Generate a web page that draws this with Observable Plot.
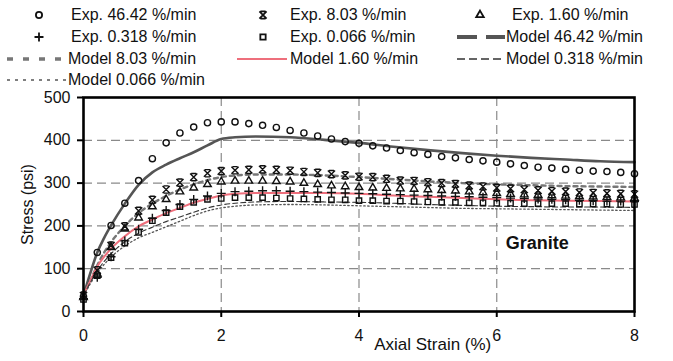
<!DOCTYPE html>
<html><head><meta charset="utf-8">
<script src="https://cdn.jsdelivr.net/npm/d3@7"></script>
<script src="https://cdn.jsdelivr.net/npm/@observablehq/plot@0.6"></script>
<style>
html,body{margin:0;padding:0;background:#fff;}
#wrap{position:relative;width:673px;height:361px;overflow:hidden;font-family:"Liberation Sans",Arial,Helvetica,sans-serif;}
#chart{position:absolute;left:0;top:0;}
#legend{position:absolute;left:0;top:0;width:673px;height:92px;}
.item{position:absolute;display:flex;align-items:center;height:20px;font-size:16px;color:#111;white-space:nowrap;}
.item svg{display:block;flex:none;}
</style></head><body>
<div id="wrap"><div id="chart"></div><div id="legend"></div></div>
<script>
// ---------- data ----------
const expStrain = [0,0.2,0.4,0.6,0.8,1.0,1.2,1.4,1.6,1.8,2.0,2.2,2.4,2.6,2.8,3.0,3.2,3.4,3.6,3.8,4.0,4.2,4.4,4.6,4.8,5.0,5.2,5.4,5.6,5.8,6.0,6.2,6.4,6.6,6.8,7.0,7.2,7.4,7.6,7.8,8.0];
const exp4642 = [35,138,201,253,306,357,394,417,431,441,443,443,439,435,430,423,417,410,403,397,393,387,382,376,371,367,362,359,355,352,349,345,341,337,335,332,330,328,327,325,322];
const exp803  = [37,96,154,199,235,261,285,301,314,323,328,330,331,332,331,329,326,324,321,318,315,314,310,306,305,302,300,298,294,292,289,287,285,283,281,280,278,277,276,275,274];
const exp160  = [33,88,150,193,219,245,262,280,289,297,303,305,305,305,304,303,300,297,294,292,290,289,288,287,286,285,283,282,280,278,276,274,273,272,271,270,269,268,267,266,265];
const exp0318 = [30,80,128,165,192,218,236,250,262,270,276,280,281,282,282,281,280,279,278,277,276,275,274,273,272,271,270,269,268,267,266,265,264,263,262,261,260,259,258,258,257];
const exp0066 = [28,84,126,160,185,212,231,245,255,262,264,266,266,266,265,264,263,262,261,261,259,259,258,258,257,256,255,255,254,254,253,253,252,252,252,252,251,251,251,250,250];

const modelStrain = [0,0.1,0.2,0.3,0.4,0.6,0.8,1.0,1.2,1.4,1.6,1.8,2.0,2.2,2.5,3.0,3.5,4.0,4.5,5.0,5.5,6.0,6.5,7.0,7.5,8.0];
const model4642 = [37,90,138,172,201,252,296,325,343,358,372,388,403,407,409,407,401,394,385,377,370,364,359,355,351,349];
const model803  = [37,72,108,138,162,200,230,252,270,285,297,307,314,318,320,320,318,314,309,304,300,297,295,293,292,291];
const model160  = [37,72,105,128,147,176,199,215,230,242,254,263,271,275,277,277,277,275,271,268,265,262,260,259,258,257];
const model0318 = [37,68,95,117,135,163,183,197,210,221,232,242,249,253,256,257,256,255,253,250,248,246,245,244,244,243];
const model0066 = [37,65,90,110,127,153,172,185,198,211,224,235,242,246,249,250,249,247,245,243,241,240,239,238,237,236];

const xTicks = [0,2,4,6,8];
const yTicks = [0,100,200,300,400,500];
const xGrid = [2,4,6];
const yGrid = [100,200,300,400];

const expNames = ["Exp. 46.42 %/min","Exp. 8.03 %/min","Exp. 1.60 %/min","Exp. 0.318 %/min","Exp. 0.066 %/min"];
const modelNames = ["Model 46.42 %/min","Model 8.03 %/min","Model 1.60 %/min","Model 0.318 %/min","Model 0.066 %/min"];
const xTitle = "Axial Strain (%)";
const yTitle = "Stress (psi)";
const annotText = "Granite";
const annotPos = {x: 6.13, y: 159};
const xTitlePos = 5.07;

// ---------- styles ----------
const starSymbol = {
  draw(ctx, size) {
    const r = Math.sqrt(size / Math.PI);
    ctx.moveTo(-r, -r); ctx.lineTo(r, r);
    ctx.moveTo(-r, r); ctx.lineTo(r, -r);
    ctx.moveTo(-r * 0.7, -r); ctx.lineTo(r * 0.7, -r);
    ctx.moveTo(-r * 0.7, r); ctx.lineTo(r * 0.7, r);
  }
};
const expStyles = [
  {symbol: "circle", r: 3.1},
  {symbol: starSymbol, r: 3.6},
  {symbol: "triangle", r: 2.8},
  {symbol: "plus", r: 3.0},
  {symbol: "square", r: 3.0}
];
const modelStyles = [
  {stroke: "#555", strokeWidth: 2.6, dash: null, legendDash: "20,9", legendWidth: 4},
  {stroke: "#777", strokeWidth: 2.4, dash: "4,4", legendDash: "6,10", legendWidth: 3.5},
  {stroke: "#ee6f7c", strokeWidth: 2, dash: null, legendDash: null, legendWidth: 2},
  {stroke: "#333", strokeWidth: 1.1, dash: "5,3", legendDash: "8,4", legendWidth: 1.6},
  {stroke: "#555", strokeWidth: 1.3, dash: "1.5,2.5", legendDash: "3,5", legendWidth: 1.6}
];

const expSeries = [exp4642, exp803, exp160, exp0318, exp0066];
const modelSeries = [model4642, model803, model160, model0318, model0066];

const expData = expSeries.map(ys => expStrain.map((x, i) => ({x, y: ys[i]})));
const modelData = modelSeries.map(ys => modelStrain.map((x, i) => ({x, y: ys[i]})));

const marks = [
  Plot.gridX(xGrid, {stroke: "#8a8a8a", strokeOpacity: 1, strokeWidth: 1.2, strokeDasharray: "9,5"}),
  Plot.gridY(yGrid, {stroke: "#8a8a8a", strokeOpacity: 1, strokeWidth: 1.2, strokeDasharray: "9,5"}),
];
modelData.forEach((d, i) => {
  const s = modelStyles[i];
  marks.push(Plot.line(d, {x: "x", y: "y", curve: "monotone-x", stroke: s.stroke, strokeWidth: s.strokeWidth, strokeDasharray: s.dash || undefined}));
});
expData.forEach((d, i) => {
  const s = expStyles[i];
  marks.push(Plot.dot(d, {x: "x", y: "y", symbol: s.symbol, r: s.r, fill: "none", stroke: "#111", strokeWidth: 1.4}));
});
marks.push(
  Plot.frame({stroke: "#000", strokeWidth: 2.6}),
  Plot.axisX(xTicks, {tickSize: 6, tickPadding: 12, stroke: "#000", strokeWidth: 2, fontSize: 16, fill: "#111", label: null}),
  Plot.axisY(yTicks, {tickSize: 6, tickPadding: 7, stroke: "#000", strokeWidth: 2, fontSize: 16, fill: "#111", label: yTitle, labelAnchor: "center", labelOffset: 62, labelArrow: "none"}),
  Plot.text([xTitle], {x: () => xTitlePos, frameAnchor: "bottom", dy: 38, text: d => d, fontSize: 17, fill: "#111", textAnchor: "middle"}),
  Plot.text([annotText], {x: () => annotPos.x, y: () => annotPos.y, text: d => d, textAnchor: "start", fontWeight: "bold", fontSize: 18, fill: "#111"})
);

const chart = Plot.plot({
  width: 673, height: 361,
  marginTop: 97, marginLeft: 83, marginRight: 39, marginBottom: 50,
  style: {fontFamily: "'Liberation Sans', Arial, Helvetica, sans-serif", fontSize: "16px", background: "transparent", color: "#111", overflow: "visible"},
  x: {domain: [0, 8]},
  y: {domain: [0, 500]},
  marks
});
document.getElementById("chart").appendChild(chart);

// ---------- legend (HTML above chart) ----------
const NS = "http://www.w3.org/2000/svg";
function markerSwatch(idx) {
  const svg = document.createElementNS(NS, "svg");
  svg.setAttribute("width", 16); svg.setAttribute("height", 16);
  const p = document.createElementNS(NS, "path");
  const s = expStyles[idx];
  const type = typeof s.symbol === "string" ? {circle: d3.symbolCircle, square: d3.symbolSquare, triangle: d3.symbolTriangle, plus: d3.symbolPlus}[s.symbol] : s.symbol;
  p.setAttribute("d", d3.symbol(type, s.r * s.r * Math.PI)());
  p.setAttribute("transform", "translate(8,8)");
  p.setAttribute("fill", "none"); p.setAttribute("stroke", "#111"); p.setAttribute("stroke-width", 1.8);
  svg.appendChild(p);
  return svg;
}
function lineSwatch(idx, len) {
  const svg = document.createElementNS(NS, "svg");
  svg.setAttribute("width", len); svg.setAttribute("height", 10);
  const l = document.createElementNS(NS, "line");
  const s = modelStyles[idx];
  l.setAttribute("x1", 0); l.setAttribute("x2", len); l.setAttribute("y1", 5); l.setAttribute("y2", 5);
  l.setAttribute("stroke", s.stroke); l.setAttribute("stroke-width", s.legendWidth);
  if (s.legendDash) l.setAttribute("stroke-dasharray", s.legendDash);
  svg.appendChild(l);
  return svg;
}
// layout: [kind, index, left, centerY, swatchLen, gap]
const legendLayout = [
  ["exp", 0, 31, 15, 0, 24],
  ["exp", 1, 255, 15, 0, 19],
  ["exp", 2, 472, 15, 0, 24],
  ["exp", 3, 31, 37, 0, 24],
  ["exp", 4, 255, 37, 0, 19],
  ["model", 0, 457, 37, 48, 1],
  ["model", 1, 7, 59, 58, 3],
  ["model", 2, 237, 59, 50, 3],
  ["model", 3, 457, 59, 48, 1],
  ["model", 4, 7, 80, 60, 1]
];
const legend = document.getElementById("legend");
legendLayout.forEach(([kind, idx, left, cy, len, gap]) => {
  const div = document.createElement("div");
  div.className = "item";
  div.style.left = left + "px";
  div.style.top = (cy - 10) + "px";
  const sw = kind === "exp" ? markerSwatch(idx) : lineSwatch(idx, len);
  sw.style.marginRight = gap + "px";
  div.appendChild(sw);
  const span = document.createElement("span");
  span.textContent = kind === "exp" ? expNames[idx] : modelNames[idx];
  div.appendChild(span);
  legend.appendChild(div);
});
</script>
</body></html>
